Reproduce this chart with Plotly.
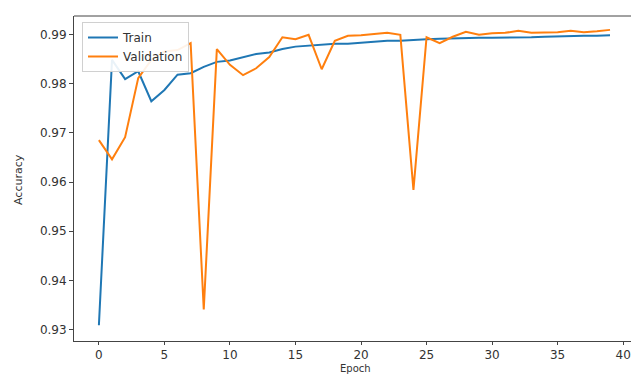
import plotly.graph_objects as go

epochs = list(range(40))
train_acc = [0.9309, 0.9848, 0.9809, 0.9825, 0.9764, 0.9787, 0.9818, 0.9821, 0.9834, 0.9844,
             0.9847, 0.9854, 0.9860, 0.9863, 0.9870, 0.9875, 0.9877, 0.9880, 0.9881, 0.9881,
             0.9883, 0.9886, 0.9887, 0.9887, 0.9889, 0.9890, 0.9891, 0.9892, 0.9893, 0.9893,
             0.9893, 0.9893, 0.9894, 0.9894, 0.9895, 0.9896, 0.9896, 0.9897, 0.9897, 0.9898]
val_acc = [0.9685, 0.9646, 0.9691, 0.9811, 0.9848, 0.9865, 0.9868, 0.9882, 0.9341, 0.9870,
           0.9838, 0.9817, 0.9831, 0.9854, 0.9894, 0.9890, 0.9899, 0.9829, 0.9887, 0.9897,
           0.9898, 0.9901, 0.9903, 0.9899, 0.9584, 0.9894, 0.9882, 0.9895, 0.9905, 0.9899,
           0.9902, 0.9903, 0.9907, 0.9903, 0.9903, 0.9904, 0.9907, 0.9904, 0.9906, 0.9909]
x_ticks = [0, 5, 10, 15, 20, 25, 30, 35, 40]
y_ticks = [0.93, 0.94, 0.95, 0.96, 0.97, 0.98, 0.99]

FONT = "DejaVu Sans"
fig = go.Figure()
fig.add_trace(go.Scatter(x=epochs, y=train_acc, mode="lines", name="Train",
                         line=dict(color="#1f77b4", width=2)))
fig.add_trace(go.Scatter(x=epochs, y=val_acc, mode="lines", name="Validation",
                         line=dict(color="#ff7f0e", width=2)))

W, H = 631, 374
L, T, B, R = 74, 16, 33, 0
ph = H - T - B
pw = W - L - R


def sx(px):
    return (px - L) / pw


def sy(py):
    return 1 - (py - T) / ph


fig.update_layout(
    width=W, height=H,
    margin=dict(l=L, r=R, t=T, b=B, pad=0, autoexpand=False),
    paper_bgcolor="white", plot_bgcolor="white",
    font=dict(family=FONT, size=12, color="#333333"),
    showlegend=True,
    legend=dict(x=sx(82), y=sy(22), xanchor="left", yanchor="top",
                bgcolor="rgba(255,255,255,0.9)", bordercolor="#d0d0d0", borderwidth=1,
                font=dict(family=FONT, size=12, color="#333333"),
                tracegroupgap=0, itemwidth=30),
    xaxis=dict(range=[-1.9, 40.6], tickvals=x_ticks, ticktext=[str(v) for v in x_ticks],
               automargin=False,
               showgrid=False, zeroline=False, showline=True, linecolor="#444444", linewidth=1,
               ticks="outside", ticklen=3, tickcolor="#444444", tickfont=dict(size=12)),
    yaxis=dict(range=[0.9277, 0.99372], tickvals=y_ticks, ticktext=[f"{v:.2f}" for v in y_ticks],
               automargin=False,
               showgrid=False, zeroline=False, showline=True, linecolor="#444444", linewidth=1,
               ticks="outside", ticklen=4, tickcolor="#444444", tickfont=dict(size=12)),
    shapes=[dict(type="line", xref="paper", yref="paper", x0=0, x1=1, y0=1, y1=1,
                 line=dict(color="#444444", width=1))],
    annotations=[
        dict(text="Epoch", xref="paper", yref="paper", x=sx(355), y=sy(375),
             xanchor="center", yanchor="bottom", showarrow=False, borderpad=0,
             font=dict(family=FONT, size=10, color="#333333")),
        dict(text="Accuracy", xref="paper", yref="paper", x=sx(18), y=sy(180),
             xanchor="center", yanchor="middle", showarrow=False, textangle=-90,
             font=dict(family=FONT, size=11, color="#333333")),
    ],
)

fig.write_html(
    "out.html",
    config={"displayModeBar": False},
    post_script="document.body.style.margin='0';document.body.style.overflow='hidden';"
                "document.documentElement.style.overflow='hidden';",
)
